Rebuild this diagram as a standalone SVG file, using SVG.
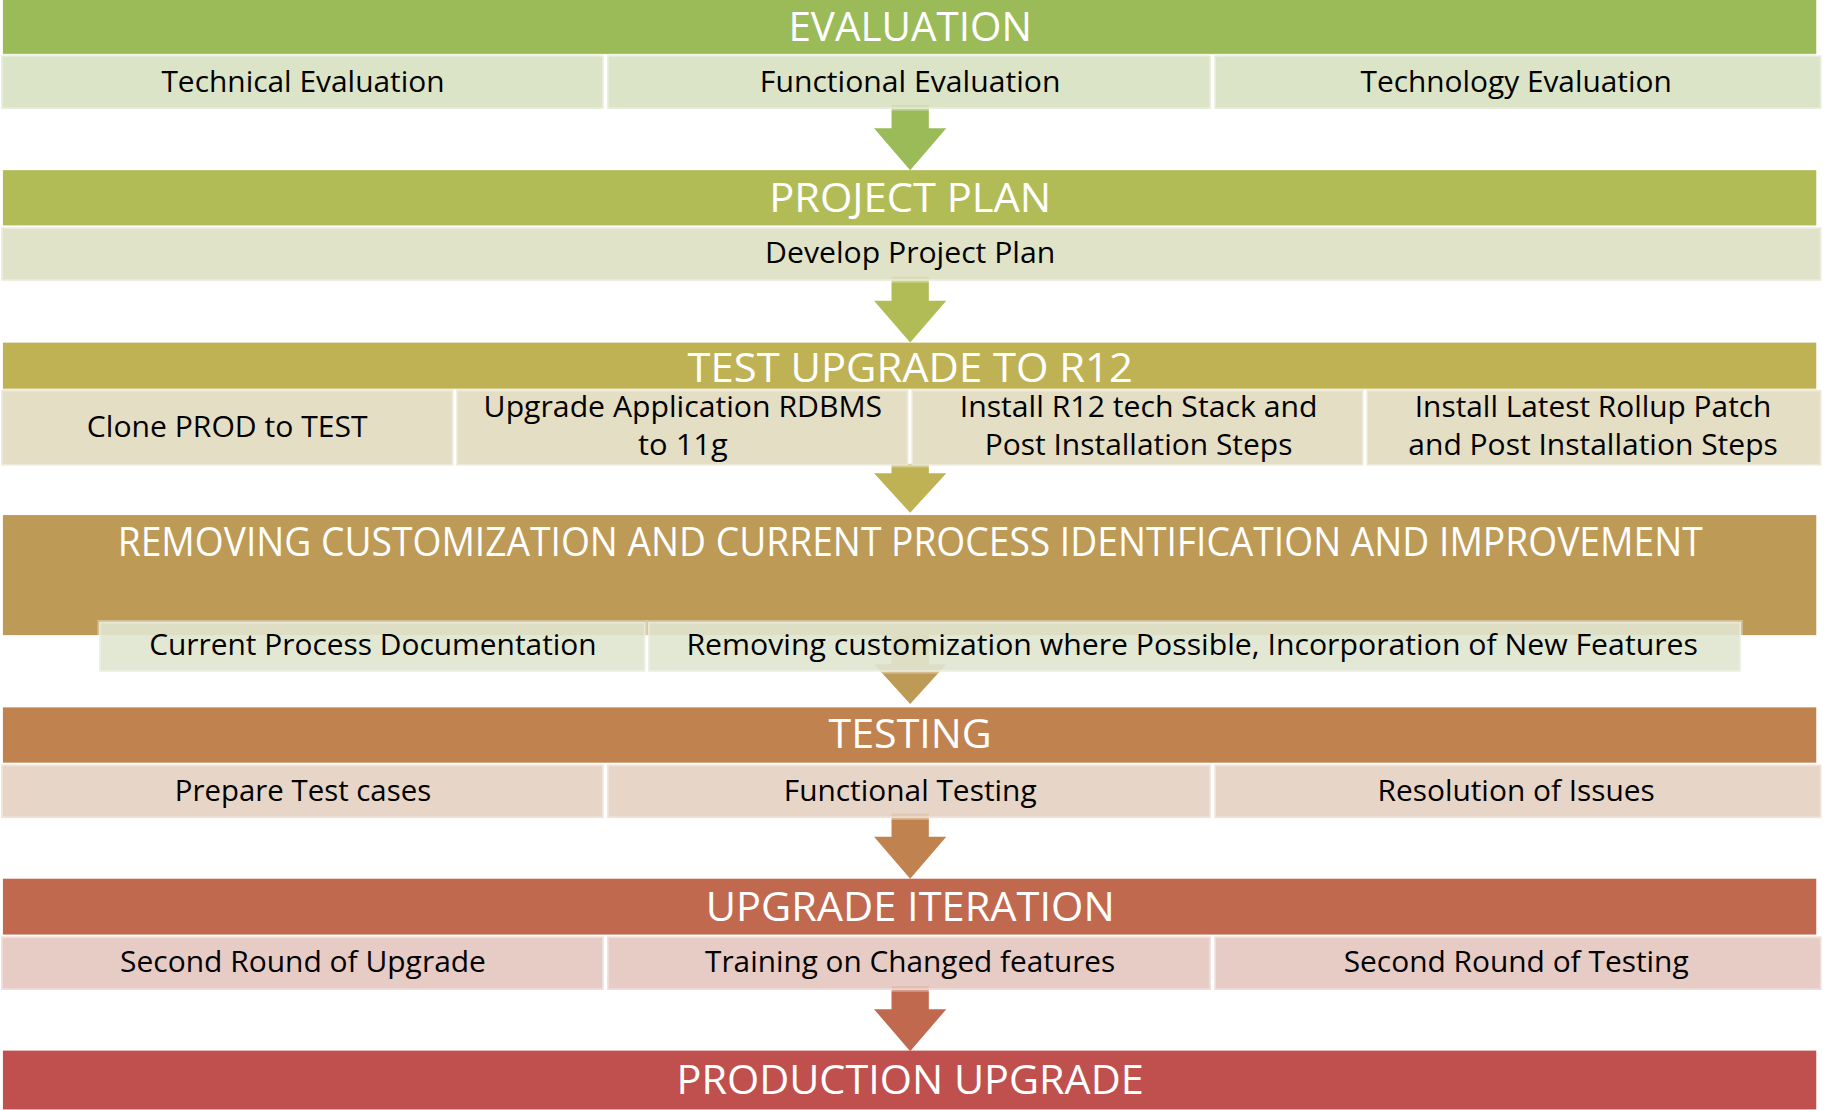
<svg xmlns="http://www.w3.org/2000/svg" width="1825" height="1110" viewBox="0 0 1825 1110">
<defs>
<style>
.hdr{font-family:"Open Sans","Noto Sans","Liberation Sans",sans-serif;font-size:35px;fill:#ffffff;text-anchor:middle}
.sub{font-family:"Open Sans","Noto Sans","Liberation Sans",sans-serif;font-size:25px;fill:#000000;text-anchor:middle}
.box{stroke:#ffffff;stroke-opacity:0.35;stroke-width:3;fill-opacity:0.9}
.g1{fill:#d8e1c1}
.g2{fill:#dee0c3}
.g3{fill:#e1dabf}
.g4{fill:#e0e5cf}
.g5{fill:#e4d0c1}
.g6{fill:#e4c5bf}
</style>
</defs>
<rect x="0" y="0" width="1825" height="1110" fill="#ffffff"/>
<g transform="scale(1.16539)">
<g id="connectors">
<path d="M765,90 L797,90 L797,110 L812,110 L781,146 L750,110 L765,110 Z" fill="#9bbb59"/>
<path d="M765,237 L797,237 L797,258 L812,258 L781,294 L750,258 L765,258 Z" fill="#b2bc57"/>
<path d="M765,398 L797,398 L797,406 L812,406 L781,440 L750,406 L765,406 Z" fill="#bfb255"/>
<path d="M765,540 L797,540 L797,570 L812,570 L781,604 L750,570 L765,570 Z" fill="#bd9a55"/>
<path d="M765,698 L797,698 L797,718 L812,718 L781,754 L750,718 L765,718 Z" fill="#c0834f"/>
<path d="M765,846 L797,846 L797,866 L812,866 L781,902 L750,866 L765,866 Z" fill="#c1694e"/>
</g>
<g id="evaluation">
<rect x="2.5" y="0" width="1556" height="46.5" fill="#9bbb59"/>
<text class="hdr" x="781" y="35" textLength="209" lengthAdjust="spacingAndGlyphs">EVALUATION</text>
</g>
<g id="technical-evaluation">
<rect class="box g1" x="1" y="47.5" width="517" height="46"/>
<text class="sub" x="260" y="79" textLength="243" lengthAdjust="spacingAndGlyphs">Technical Evaluation</text>
</g>
<g id="functional-evaluation">
<rect class="box g1" x="521" y="47.5" width="518" height="46"/>
<text class="sub" x="781" y="79" textLength="258" lengthAdjust="spacingAndGlyphs">Functional Evaluation</text>
</g>
<g id="technology-evaluation">
<rect class="box g1" x="1042" y="47.5" width="521" height="46"/>
<text class="sub" x="1301" y="79" textLength="267" lengthAdjust="spacingAndGlyphs">Technology Evaluation</text>
</g>
<g id="project-plan">
<rect x="2.5" y="146" width="1556" height="47.5" fill="#b2bc57"/>
<text class="hdr" x="781" y="182" textLength="242" lengthAdjust="spacingAndGlyphs">PROJECT PLAN</text>
</g>
<g id="develop-project-plan">
<rect class="box g2" x="1" y="195" width="1562" height="46"/>
<text class="sub" x="781" y="226" textLength="249" lengthAdjust="spacingAndGlyphs">Develop Project Plan</text>
</g>
<g id="test-upgrade">
<rect x="2.5" y="294" width="1556" height="40" fill="#bfb255"/>
<text class="hdr" x="781" y="328" textLength="382" lengthAdjust="spacingAndGlyphs">TEST UPGRADE TO R12</text>
</g>
<g id="clone-prod">
<rect class="box g3" x="1" y="334.5" width="388" height="65"/>
<text class="sub" x="195" y="375" textLength="241" lengthAdjust="spacingAndGlyphs">Clone PROD to TEST</text>
</g>
<g id="upgrade-rdbms">
<rect class="box g3" x="391.5" y="334.5" width="388" height="65"/>
<text class="sub" x="586" y="358" textLength="342" lengthAdjust="spacingAndGlyphs">Upgrade Application RDBMS</text>
<text class="sub" x="586" y="390" textLength="77" lengthAdjust="spacingAndGlyphs">to 11g</text>
</g>
<g id="install-r12">
<rect class="box g3" x="782" y="334.5" width="388" height="65"/>
<text class="sub" x="977" y="358" textLength="307" lengthAdjust="spacingAndGlyphs">Install R12 tech Stack and</text>
<text class="sub" x="977" y="390" textLength="264" lengthAdjust="spacingAndGlyphs">Post Installation Steps</text>
</g>
<g id="install-rollup">
<rect class="box g3" x="1172.5" y="334.5" width="390.5" height="65"/>
<text class="sub" x="1367" y="358" textLength="306" lengthAdjust="spacingAndGlyphs">Install Latest Rollup Patch</text>
<text class="sub" x="1367" y="390" textLength="317" lengthAdjust="spacingAndGlyphs">and Post Installation Steps</text>
</g>
<g id="removing-customization">
<rect x="2.5" y="442" width="1556" height="103" fill="#bd9a55"/>
<text class="hdr" x="781" y="477" textLength="1360" lengthAdjust="spacingAndGlyphs">REMOVING CUSTOMIZATION AND CURRENT PROCESS IDENTIFICATION AND IMPROVEMENT</text>
</g>
<g id="current-process-documentation">
<rect class="box g4" x="85" y="533.5" width="469" height="43"/>
<text class="sub" x="320" y="562" textLength="384" lengthAdjust="spacingAndGlyphs">Current Process Documentation</text>
</g>
<g id="removing-where-possible">
<rect class="box g4" x="556" y="533.5" width="938" height="43"/>
<text class="sub" x="1023" y="562" textLength="868" lengthAdjust="spacingAndGlyphs">Removing customization where Possible, Incorporation of New Features</text>
</g>
<g id="testing">
<rect x="2.5" y="607" width="1556" height="47.5" fill="#c0834f"/>
<text class="hdr" x="781" y="642" textLength="140" lengthAdjust="spacingAndGlyphs">TESTING</text>
</g>
<g id="prepare-test-cases">
<rect class="box g5" x="1" y="656" width="517" height="46"/>
<text class="sub" x="260" y="687" textLength="220" lengthAdjust="spacingAndGlyphs">Prepare Test cases</text>
</g>
<g id="functional-testing">
<rect class="box g5" x="521" y="656" width="518" height="46"/>
<text class="sub" x="781" y="687" textLength="217" lengthAdjust="spacingAndGlyphs">Functional Testing</text>
</g>
<g id="resolution-of-issues">
<rect class="box g5" x="1042" y="656" width="521" height="46"/>
<text class="sub" x="1301" y="687" textLength="238" lengthAdjust="spacingAndGlyphs">Resolution of Issues</text>
</g>
<g id="upgrade-iteration">
<rect x="2.5" y="754" width="1556" height="48" fill="#c1694e"/>
<text class="hdr" x="781" y="790" textLength="351" lengthAdjust="spacingAndGlyphs">UPGRADE ITERATION</text>
</g>
<g id="second-round-upgrade">
<rect class="box g6" x="1" y="803.5" width="517" height="46"/>
<text class="sub" x="260" y="834" textLength="314" lengthAdjust="spacingAndGlyphs">Second Round of Upgrade</text>
</g>
<g id="training-changed-features">
<rect class="box g6" x="521" y="803.5" width="518" height="46"/>
<text class="sub" x="781" y="834" textLength="352" lengthAdjust="spacingAndGlyphs">Training on Changed features</text>
</g>
<g id="second-round-testing">
<rect class="box g6" x="1042" y="803.5" width="521" height="46"/>
<text class="sub" x="1301" y="834" textLength="296" lengthAdjust="spacingAndGlyphs">Second Round of Testing</text>
</g>
<g id="production-upgrade">
<rect x="2.5" y="901.5" width="1556" height="50.5" fill="#c0504d"/>
<text class="hdr" x="781" y="939" textLength="401" lengthAdjust="spacingAndGlyphs">PRODUCTION UPGRADE</text>
</g>
</g>
</svg>
